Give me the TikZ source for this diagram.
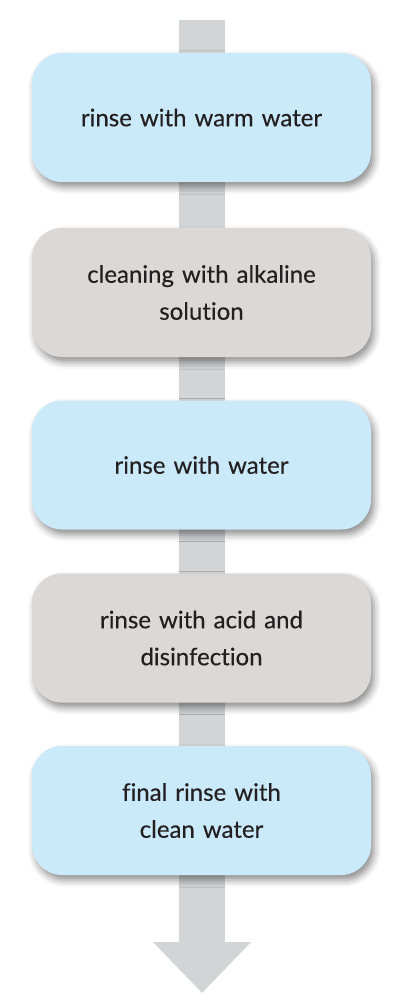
\documentclass[tikz,border=0pt]{standalone}
\usepackage{fontspec}
\setmainfont[Ligatures=NoCommon,FakeBold=0.3]{Lato}
\usetikzlibrary{arrows.meta,shadows.blur}
\definecolor{boxblue}{HTML}{CAE9F9}
\definecolor{boxgrey}{HTML}{DCD8D5}
\definecolor{flowgrey}{HTML}{D3D4D6}
\definecolor{txt}{HTML}{231F20}
\tikzset{
  stepbox/.style={rounded corners=30pt, minimum width=339pt, minimum height=129pt,
    text width=300pt, align=center, inner sep=0pt, text=txt,
    font=\fontsize{24}{37}\selectfont,
    blur shadow={shadow xshift=3pt, shadow yshift=-5pt, shadow blur radius=7pt, shadow opacity=45}},
  bluebox/.style={stepbox, fill=boxblue},
  greybox/.style={stepbox, fill=boxgrey},
  flow/.style={draw=flowgrey, line width=46pt, line cap=butt,
    -{Triangle[width=95pt, length=51pt]}}
}
\begin{document}
\begin{tikzpicture}[x=1pt,y=1pt]
\useasboundingbox (0,0) rectangle (404,-1000);
\coordinate (top) at (202,-20);
\coordinate (tip) at (202,-993);
\draw[flow] (top) -- (tip);
\node[bluebox] (s1) at (201.5,-117.5) {rinse with warm water};
\node[greybox] (s2) at (201.5,-292.5) {cleaning with alkaline\\solution};
\node[bluebox] (s3) at (201.5,-465) {rinse with water};
\node[greybox] (s4) at (201.5,-638) {rinse with acid and\\disinfection};
\node[bluebox] (s5) at (201.5,-810.5) {final rinse with\\clean water};
\end{tikzpicture}
\end{document}
